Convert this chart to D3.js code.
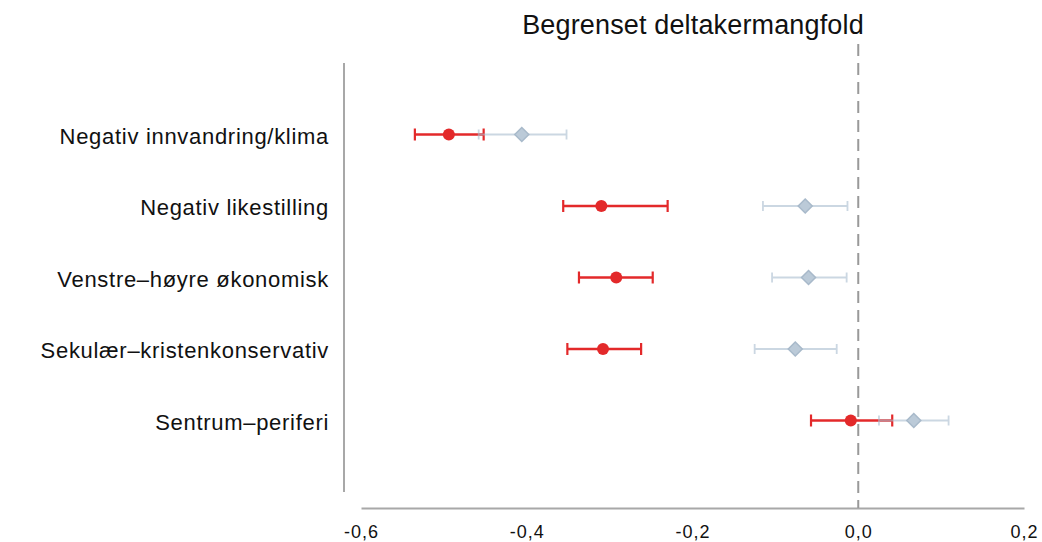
<!DOCTYPE html>
<html><head><meta charset="utf-8">
<script src="https://cdn.jsdelivr.net/npm/d3@7"></script>
<style>body{margin:0;background:#fff}svg{display:block}text{font-family:"Liberation Sans",Arial,sans-serif}</style>
</head><body><svg id="c" width="1042" height="542"></svg>
<script>
const title = "Begrenset deltakermangfold";
const categories = ["Negativ innvandring/klima","Negativ likestilling","Venstre\u2013h\u00f8yre \u00f8konomisk","Sekul\u00e6r\u2013kristenkonservativ","Sentrum\u2013periferi"];
const redEst = [-0.494,-0.310,-0.292,-0.308,-0.009];
const redLo  = [-0.535,-0.356,-0.337,-0.351,-0.057];
const redHi  = [-0.452,-0.230,-0.248,-0.262,0.041];
const blueEst = [-0.406,-0.064,-0.060,-0.076,0.067];
const blueLo  = [-0.458,-0.115,-0.104,-0.125,0.025];
const blueHi  = [-0.352,-0.013,-0.014,-0.026,0.109];
const xTicks = [-0.6,-0.4,-0.2,0.0,0.2];

const svg = d3.select("#c");
const x = d3.scaleLinear().domain([-0.6,0.2]).range([361,1024]);
const y = d3.scalePoint().domain(categories).range([63,492]).padding(1);

// axes lines
svg.append("line").attr("x1",344).attr("x2",344).attr("y1",63).attr("y2",492).attr("stroke","#a8a8a8").attr("stroke-width",2);
const xa = svg.append("g").attr("transform","translate(0,508)")
  .call(d3.axisBottom(x).tickValues(xTicks).tickSize(0).tickPadding(17).tickFormat(d=>d3.format(".1f")(d).replace("−","-").replace(".",",")));
xa.select(".domain").attr("stroke","#a8a8a8").attr("stroke-width",2);
xa.selectAll("text").attr("font-size",18).attr("letter-spacing",1).attr("fill","#111").attr("font-family","Liberation Sans, Arial, sans-serif");

// zero line
svg.append("line").attr("x1",x(0)).attr("x2",x(0)).attr("y1",44).attr("y2",508)
  .attr("stroke","#999").attr("stroke-width",2).attr("stroke-dasharray","12,7");

// category labels
svg.selectAll(".cat").data(categories).enter().append("text")
  .attr("x",329).attr("y",d=>y(d)).attr("dy","0.41em").attr("text-anchor","end")
  .attr("font-size",22).attr("letter-spacing",0.7).attr("fill","#111").text(d=>d);

// title
svg.append("text").attr("x",693).attr("y",34).attr("text-anchor","middle").attr("font-size",27).attr("letter-spacing",0.15).attr("fill","#111").text(title);

const idx = d3.range(categories.length);
// red series
const red = svg.append("g").attr("stroke","#e3292a").attr("fill","#e3292a");
red.selectAll(".rl").data(idx).enter().append("line")
  .attr("x1",i=>x(redLo[i])).attr("x2",i=>x(redHi[i])).attr("y1",i=>y(categories[i])).attr("y2",i=>y(categories[i])).attr("stroke-width",2.6);
red.selectAll(".rc1").data(idx).enter().append("line")
  .attr("x1",i=>x(redLo[i])).attr("x2",i=>x(redLo[i])).attr("y1",i=>y(categories[i])-6).attr("y2",i=>y(categories[i])+6).attr("stroke-width",2.2);
red.selectAll(".rc2").data(idx).enter().append("line")
  .attr("x1",i=>x(redHi[i])).attr("x2",i=>x(redHi[i])).attr("y1",i=>y(categories[i])-6).attr("y2",i=>y(categories[i])+6).attr("stroke-width",2.2);
red.selectAll(".rp").data(idx).enter().append("circle")
  .attr("cx",i=>x(redEst[i])).attr("cy",i=>y(categories[i])).attr("r",6).attr("stroke","none");

// blue series (semi-transparent on top)
const blue = svg.append("g").attr("opacity",0.6);
blue.selectAll(".bl").data(idx).enter().append("line")
  .attr("x1",i=>x(blueLo[i])).attr("x2",i=>x(blueHi[i])).attr("y1",i=>y(categories[i])).attr("y2",i=>y(categories[i])).attr("stroke","#a9bdd0").attr("stroke-width",2);
blue.selectAll(".bc1").data(idx).enter().append("line")
  .attr("x1",i=>x(blueLo[i])).attr("x2",i=>x(blueLo[i])).attr("y1",i=>y(categories[i])-5).attr("y2",i=>y(categories[i])+5).attr("stroke","#a9bdd0").attr("stroke-width",1.8);
blue.selectAll(".bc2").data(idx).enter().append("line")
  .attr("x1",i=>x(blueHi[i])).attr("x2",i=>x(blueHi[i])).attr("y1",i=>y(categories[i])-5).attr("y2",i=>y(categories[i])+5).attr("stroke","#a9bdd0").attr("stroke-width",1.8);
blue.selectAll(".bp").data(idx).enter().append("path")
  .attr("transform",i=>`translate(${x(blueEst[i])},${y(categories[i])})`)
  .attr("d","M0,-7L7,0L0,7L-7,0Z").attr("fill","#8fa7bf").attr("stroke","#6f8ca8").attr("stroke-width",1.5);
</script></body></html>
